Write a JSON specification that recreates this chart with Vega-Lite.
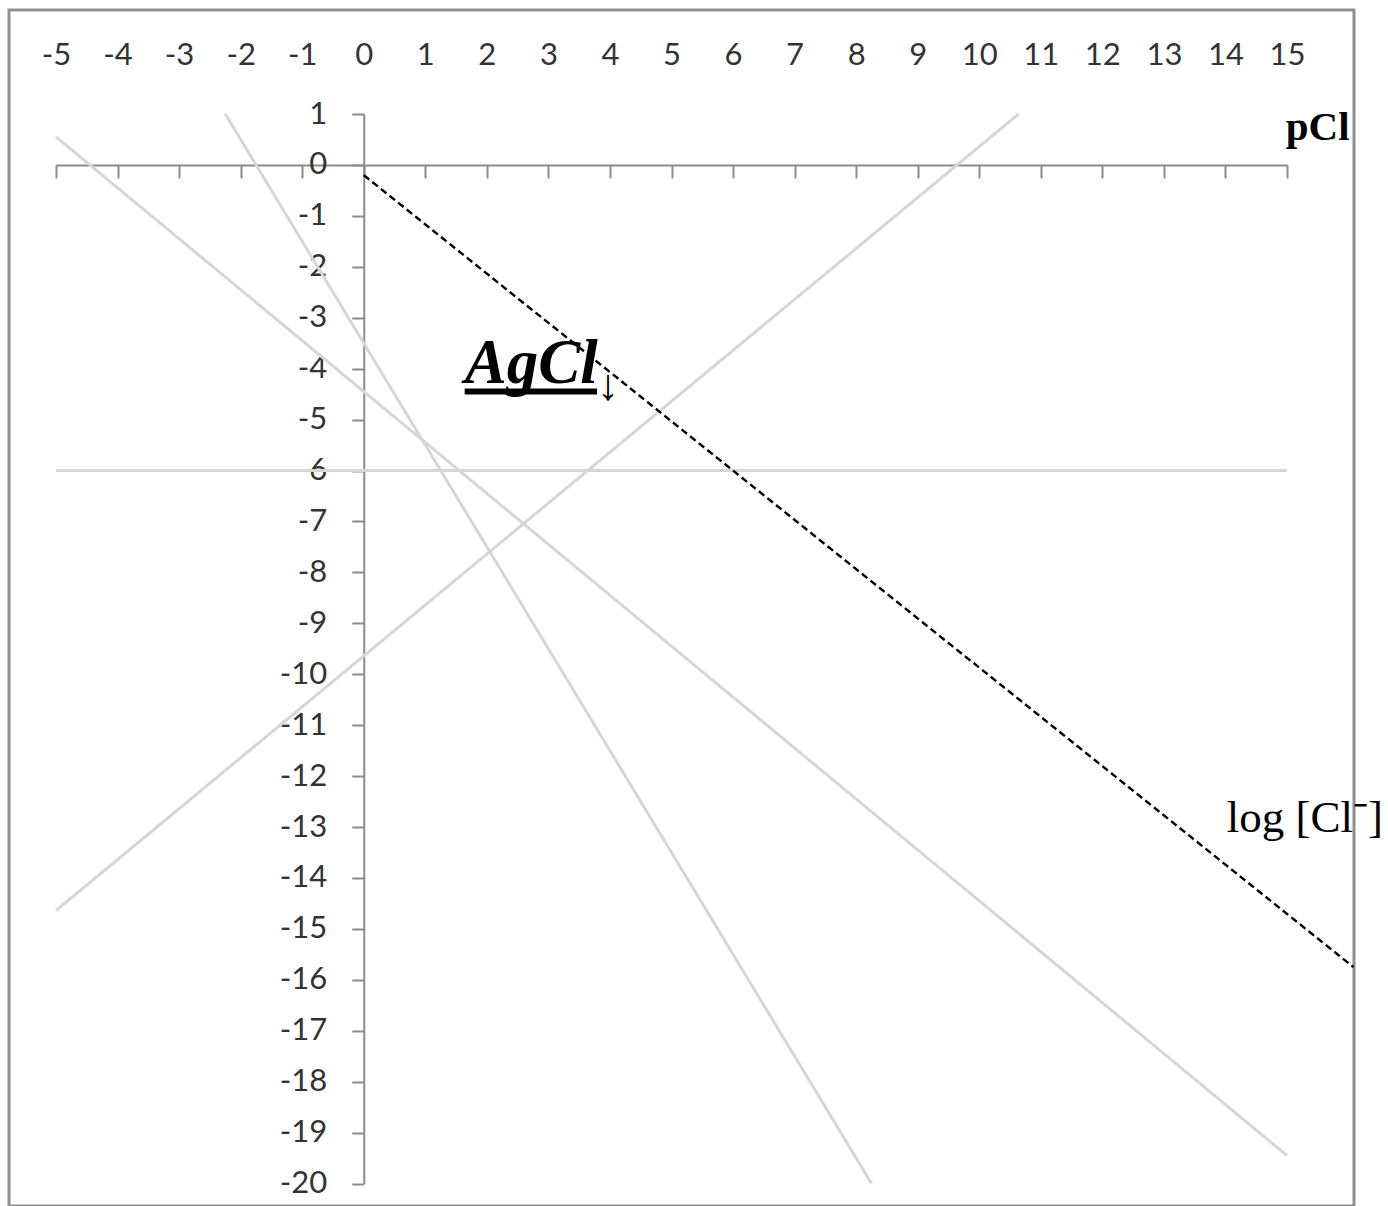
{
  "$schema": "https://vega.github.io/schema/vega-lite/v6.json",
  "width": 1345,
  "height": 1196,
  "autosize": {"type": "none"},
  "padding": {"left": 9, "top": 10, "right": 34, "bottom": 0},
  "background": "white",
  "config": {"view": {"stroke": "#8f8f8f", "strokeWidth": 3}},
  "datasets": {
    "lines": [
      {"s": "Ag+", "x": -5, "y": -14.64}, {"s": "Ag+", "x": 10.64, "y": 1},
      {"s": "AgCl", "x": -5, "y": -6}, {"s": "AgCl", "x": 15, "y": -6},
      {"s": "AgCl2-", "x": -5, "y": 0.55}, {"s": "AgCl2-", "x": 15, "y": -19.45},
      {"s": "AgCl3 2-", "x": -2.25, "y": 1}, {"s": "AgCl3 2-", "x": 8.25, "y": -20}
    ],
    "cl": [{"x": 0, "y": -0.2}, {"x": 16.08, "y": -15.75}],
    "labels": [
      {"t": "pCl", "x": 14.98, "y": 0.49},
      {"t": "AgCl", "x": 1.64, "y": -4.29},
      {"t": "↓", "x": 3.97, "y": -4.36},
      {"t": "log [Cl⁻]", "x": 14.02, "y": -13.1}
    ],
    "under": [{"x": 1.64, "x2": 3.79, "y": -4.45}]
  },
  "layer": [
    {
      "data": {"name": "lines"},
      "mark": {"type": "line", "color": "#d6d6d6", "strokeWidth": 3, "strokeCap": "butt"},
      "encoding": {
        "x": {"field": "x", "type": "quantitative",
          "scale": {"domain": [-5, 15], "range": [47, 1278], "nice": false, "zero": false},
          "axis": {"orient": "top", "values": [-5,-4,-3,-2,-1,0,1,2,3,4,5,6,7,8,9,10,11,12,13,14,15],
            "domain": false, "ticks": false, "tickSize": 0, "labelPadding": 0, "offset": -45,
            "labelBaseline": "middle", "labelFont": "Lato", "labelFontSize": 31, "labelColor": "#333333",
            "title": null, "grid": false, "labelFlush": false, "labelOverlap": false, "labelBound": false,
            "labelExpr": "datum.value + ''"}},
        "y": {"field": "y", "type": "quantitative",
          "scale": {"domain": [-20, 1], "range": [1173.5, 104], "nice": false, "zero": false},
          "axis": {"orient": "left", "values": [-20,-19,-18,-17,-16,-15,-14,-13,-12,-11,-10,-9,-8,-7,-6,-5,-4,-3,-2,-1,0,1],
            "offset": -354.75, "tickSize": 12, "tickColor": "#8c8c8c", "tickWidth": 2,
            "domainColor": "#8c8c8c", "domainWidth": 2, "labelPadding": 25,
            "labelFont": "Lato", "labelFontSize": 31, "labelColor": "#333333",
            "title": null, "grid": false, "labelFlush": false, "labelOverlap": false, "labelBound": false,
            "labelExpr": "datum.value + ''"}},
        "detail": {"field": "s", "type": "nominal"}
      }
    },
    {
      "data": {"name": "cl"},
      "mark": {"type": "line", "color": "black", "strokeWidth": 2.4, "strokeDash": [7, 4]},
      "encoding": {
        "x": {"field": "x", "type": "quantitative",
          "axis": {"orient": "bottom", "values": [-5,-4,-3,-2,-1,0,1,2,3,4,5,6,7,8,9,10,11,12,13,14,15],
            "labels": false, "ticks": true, "tickSize": 13, "tickColor": "#8c8c8c", "tickWidth": 2,
            "domainColor": "#8c8c8c", "domainWidth": 2, "offset": -1041.07, "title": null, "grid": false}},
        "y": {"field": "y", "type": "quantitative", "axis": null}
      }
    },
    {
      "data": {"name": "under"},
      "mark": {"type": "rule", "color": "black", "strokeWidth": 6},
      "encoding": {
        "x": {"field": "x", "type": "quantitative", "axis": null},
        "x2": {"field": "x2"},
        "y": {"field": "y", "type": "quantitative", "axis": null}
      }
    },
    {
      "data": {"name": "labels"},
      "transform": [{"filter": "datum.t == 'pCl'"}],
      "mark": {"type": "text", "font": "Liberation Serif", "fontWeight": "bold", "fontSize": 41, "align": "left", "baseline": "alphabetic", "color": "black"},
      "encoding": {
        "x": {"field": "x", "type": "quantitative", "axis": null},
        "y": {"field": "y", "type": "quantitative", "axis": null},
        "text": {"field": "t"}
      }
    },
    {
      "data": {"name": "labels"},
      "transform": [{"filter": "datum.t == 'AgCl'"}],
      "mark": {"type": "text", "font": "Liberation Serif", "fontWeight": "bold", "fontStyle": "italic", "fontSize": 63, "align": "left", "baseline": "alphabetic", "color": "black"},
      "encoding": {
        "x": {"field": "x", "type": "quantitative", "axis": null},
        "y": {"field": "y", "type": "quantitative", "axis": null},
        "text": {"field": "t"}
      }
    },
    {
      "data": {"name": "labels"},
      "transform": [{"filter": "datum.t == '↓'"}],
      "mark": {"type": "text", "font": "Liberation Serif", "fontSize": 44, "align": "center", "baseline": "middle", "color": "black"},
      "encoding": {
        "x": {"field": "x", "type": "quantitative", "axis": null},
        "y": {"field": "y", "type": "quantitative", "axis": null},
        "text": {"field": "t"}
      }
    },
    {
      "data": {"name": "labels"},
      "transform": [{"filter": "datum.t == 'log [Cl⁻]'"}],
      "mark": {"type": "text", "font": "Liberation Serif", "fontSize": 45, "align": "left", "baseline": "alphabetic", "color": "black"},
      "encoding": {
        "x": {"field": "x", "type": "quantitative", "axis": null},
        "y": {"field": "y", "type": "quantitative", "axis": null},
        "text": {"field": "t"}
      }
    }
  ],
  "resolve": {"axis": {"x": "independent", "y": "independent"}}
}
